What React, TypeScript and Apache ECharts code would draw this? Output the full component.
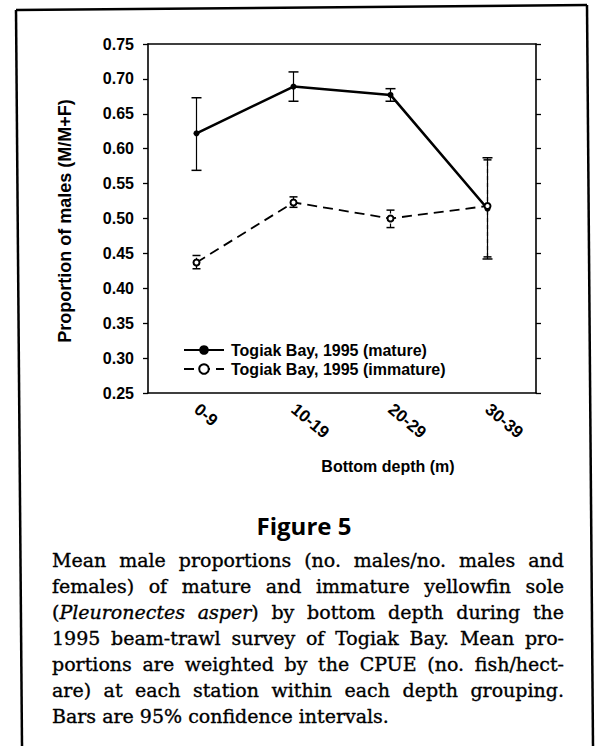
import React, { useEffect, useRef } from 'react';
import * as echarts from 'echarts';

const categories = ['0-9', '10-19', '20-29', '30-39'];
const seriesNames = ['Togiak Bay, 1995 (mature)', 'Togiak Bay, 1995 (immature)'];
const matureMean = [0.622, 0.689, 0.677, 0.514];
const matureLow = [0.569, 0.668, 0.668, 0.442];
const matureHigh = [0.673, 0.710, 0.686, 0.587];
const immatureMean = [0.437, 0.523, 0.500, 0.518];
const immatureLow = [0.428, 0.516, 0.487, 0.445];
const immatureHigh = [0.447, 0.531, 0.512, 0.584];
const yMin = 0.25;
const yMax = 0.75;
const yStep = 0.05;
const yAxisTitle = 'Proportion of males (M/M+F)';
const xAxisTitle = 'Bottom depth (m)';
const figureTitle = 'Figure 5';
const captionLines = [
  'Mean male proportions (no. males/no. males and',
  'females) of mature and immature yellowfin sole',
  '(_Pleuronectes_ _asper_) by bottom depth during the',
  '1995 beam-trawl survey of Togiak Bay. Mean pro-',
  'portions are weighted by the CPUE (no. fish/hect-',
  'are) at each station within each depth grouping.',
  'Bars are 95% confidence intervals.',
];

const SANS = '"Liberation Sans", Arial, sans-serif';
const SERIF = '"DejaVu Serif", serif';
const CAP_SIZE = 19;

function errorRenderer(dashed: boolean, capHalf: number) {
  return (params: any, api: any) => {
    const i = api.value(0);
    const lo = api.coord([i, api.value(1)]);
    const hi = api.coord([i, api.value(2)]);
    const stem = { stroke: '#000', lineWidth: 1.2, lineDash: dashed ? [4, 3] : null };
    const cap = { stroke: '#000', lineWidth: 1.5 };
    return {
      type: 'group',
      children: [
        { type: 'line', shape: { x1: lo[0], y1: lo[1], x2: hi[0], y2: hi[1] }, style: stem },
        { type: 'line', shape: { x1: hi[0] - capHalf, y1: hi[1], x2: hi[0] + capHalf, y2: hi[1] }, style: cap },
        { type: 'line', shape: { x1: lo[0] - capHalf, y1: lo[1], x2: lo[0] + capHalf, y2: lo[1] }, style: cap },
      ],
    };
  };
}

function buildCaption(): any[] {
  const canvas = document.createElement('canvas');
  const ctx = canvas.getContext('2d') as CanvasRenderingContext2D;
  const measure = (t: string, italic: boolean) => {
    ctx.font = `${italic ? 'italic ' : ''}${CAP_SIZE}px "DejaVu Serif"`;
    return ctx.measureText(t).width;
  };
  const left = 52;
  const right = 564;
  const width = right - left;
  const firstBaseline = 566;
  const lineStep = 26;
  const minGap = 4;
  const els: any[] = [];
  captionLines.forEach((line, li) => {
    const words = line.split(' ').map((w) => {
      const parts = w.split('_');
      const segs = parts
        .map((p, k) => ({ text: p, italic: k % 2 === 1 }))
        .filter((s) => s.text.length > 0)
        .map((s) => ({ ...s, w: measure(s.text, s.italic) }));
      return { segs, w: segs.reduce((a, s) => a + s.w, 0) };
    });
    const total = words.reduce((a, w) => a + w.w, 0);
    const justify = li < captionLines.length - 1;
    let gap = justify && words.length > 1 ? (width - total) / (words.length - 1) : measure(' ', false);
    let sc = 1;
    if (justify && gap < minGap) {
      gap = minGap;
      sc = width / (total + minGap * (words.length - 1));
    }
    let x = 0;
    const y = firstBaseline + li * lineStep - CAP_SIZE * 0.34;
    words.forEach((w) => {
      let sx = x;
      w.segs.forEach((s) => {
        els.push({
          type: 'text',
          x: left + sx * sc,
          y,
          scaleX: sc,
          style: {
            text: s.text,
            fontSize: CAP_SIZE,
            fontFamily: SERIF,
            fontStyle: s.italic ? 'italic' : 'normal',
            fill: '#000',
            stroke: '#000',
            lineWidth: 0.35,
            align: 'left',
            verticalAlign: 'middle',
          },
        });
        sx += s.w;
      });
      x += w.w + gap;
    });
  });
  return els;
}

export default function App() {
  const ref = useRef<HTMLDivElement>(null);
  useEffect(() => {
    document.body.style.margin = '0';
    const chart = echarts.init(ref.current as HTMLDivElement, null, { renderer: 'svg' });
    const axisLineStyle = { color: '#000', width: 1.6 };
    const valueAxisBase = {
      type: 'value',
      min: yMin,
      max: yMax,
      interval: yStep,
      splitLine: { show: false },
      axisLine: { show: true, lineStyle: axisLineStyle },
      axisTick: { show: true, length: 5, lineStyle: { color: '#000', width: 1.3 } },
    };
    const option: any = {
      animation: false,
      backgroundColor: '#fff',
      grid: { left: 148, right: 61, top: 44, bottom: 353, containLabel: false },
      xAxis: [
        {
          type: 'category',
          data: categories,
          position: 'bottom',
          boundaryGap: true,
          axisLine: { lineStyle: axisLineStyle },
          axisTick: { alignWithLabel: true, length: 4, lineStyle: { color: '#000', width: 1.3 } },
          axisLabel: {
            rotate: -40,
            margin: 14,
            color: '#000',
            fontSize: 17,
            fontWeight: 'bold',
            fontFamily: SANS,
          },
        },
        {
          type: 'category',
          data: categories,
          position: 'top',
          boundaryGap: true,
          axisLine: { lineStyle: axisLineStyle },
          axisTick: { alignWithLabel: true, length: 4, lineStyle: { color: '#000', width: 1.3 } },
          axisLabel: { show: false },
        },
      ],
      yAxis: [
        {
          ...valueAxisBase,
          position: 'left',
          axisLabel: {
            margin: 14,
            color: '#000',
            fontSize: 16,
            fontWeight: 'bold',
            fontFamily: SANS,
            formatter: (v: number) => v.toFixed(2),
          },
        },
        {
          ...valueAxisBase,
          position: 'right',
          axisLabel: { show: false },
        },
      ],
      legend: {
        orient: 'vertical',
        left: 183,
        top: 342,
        padding: 0,
        itemWidth: 40,
        itemHeight: 12,
        itemGap: 3,
        data: seriesNames,
        textStyle: { color: '#000', fontSize: 16, fontWeight: 'bold', fontFamily: SANS, padding: [0, 0, 0, 2] },
      },
      series: [
        {
          type: 'custom',
          renderItem: errorRenderer(false, 5),
          data: categories.map((c, i) => [i, matureLow[i], matureHigh[i]]),
          encode: { x: 0, y: [1, 2] },
          z: 3,
        },
        {
          type: 'custom',
          renderItem: errorRenderer(true, 4),
          data: categories.map((c, i) => [i, immatureLow[i], immatureHigh[i]]),
          encode: { x: 0, y: [1, 2] },
          z: 3,
        },
        {
          name: seriesNames[0],
          type: 'line',
          data: matureMean,
          symbol: 'circle',
          symbolSize: 6,
          itemStyle: { color: '#000' },
          lineStyle: { color: '#000', width: 2.6 },
          z: 5,
        },
        {
          name: seriesNames[1],
          type: 'line',
          data: immatureMean,
          symbol: 'emptyCircle',
          symbolSize: 6,
          itemStyle: { color: '#000', borderWidth: 1.2 },
          lineStyle: { color: '#000', width: 1.8, type: [10, 6] },
          z: 5,
        },
      ],
      graphic: [
        { type: 'line', shape: { x1: 16, y1: 10, x2: 587, y2: 5 }, style: { stroke: '#000', lineWidth: 2.5 } },
        { type: 'line', shape: { x1: 16, y1: 10, x2: 22, y2: 746 }, style: { stroke: '#000', lineWidth: 2.5 } },
        { type: 'line', shape: { x1: 587, y1: 5, x2: 593, y2: 746 }, style: { stroke: '#000', lineWidth: 2.5 } },
        {
          type: 'text',
          x: 65,
          y: 221,
          rotation: Math.PI / 2,
          style: {
            text: yAxisTitle,
            fontSize: 18,
            fontWeight: 'bold',
            fontFamily: SANS,
            fill: '#000',
            align: 'center',
            verticalAlign: 'middle',
          },
        },
        {
          type: 'text',
          x: 388,
          y: 466,
          style: {
            text: xAxisTitle,
            fontSize: 16,
            fontWeight: 'bold',
            fontFamily: SANS,
            fill: '#000',
            align: 'center',
            verticalAlign: 'middle',
          },
        },
        {
          type: 'text',
          x: 304,
          y: 525,
          style: {
            text: figureTitle,
            fontSize: 24,
            fontWeight: 'bold',
            fontFamily: '"Open Sans", sans-serif',
            fill: '#000',
            align: 'center',
            verticalAlign: 'middle',
          },
        },
        ...buildCaption(),
      ],
    };
    chart.setOption(option);
    return () => chart.dispose();
  }, []);
  return <div ref={ref} style={{ width: 597, height: 746 }} />;
}
